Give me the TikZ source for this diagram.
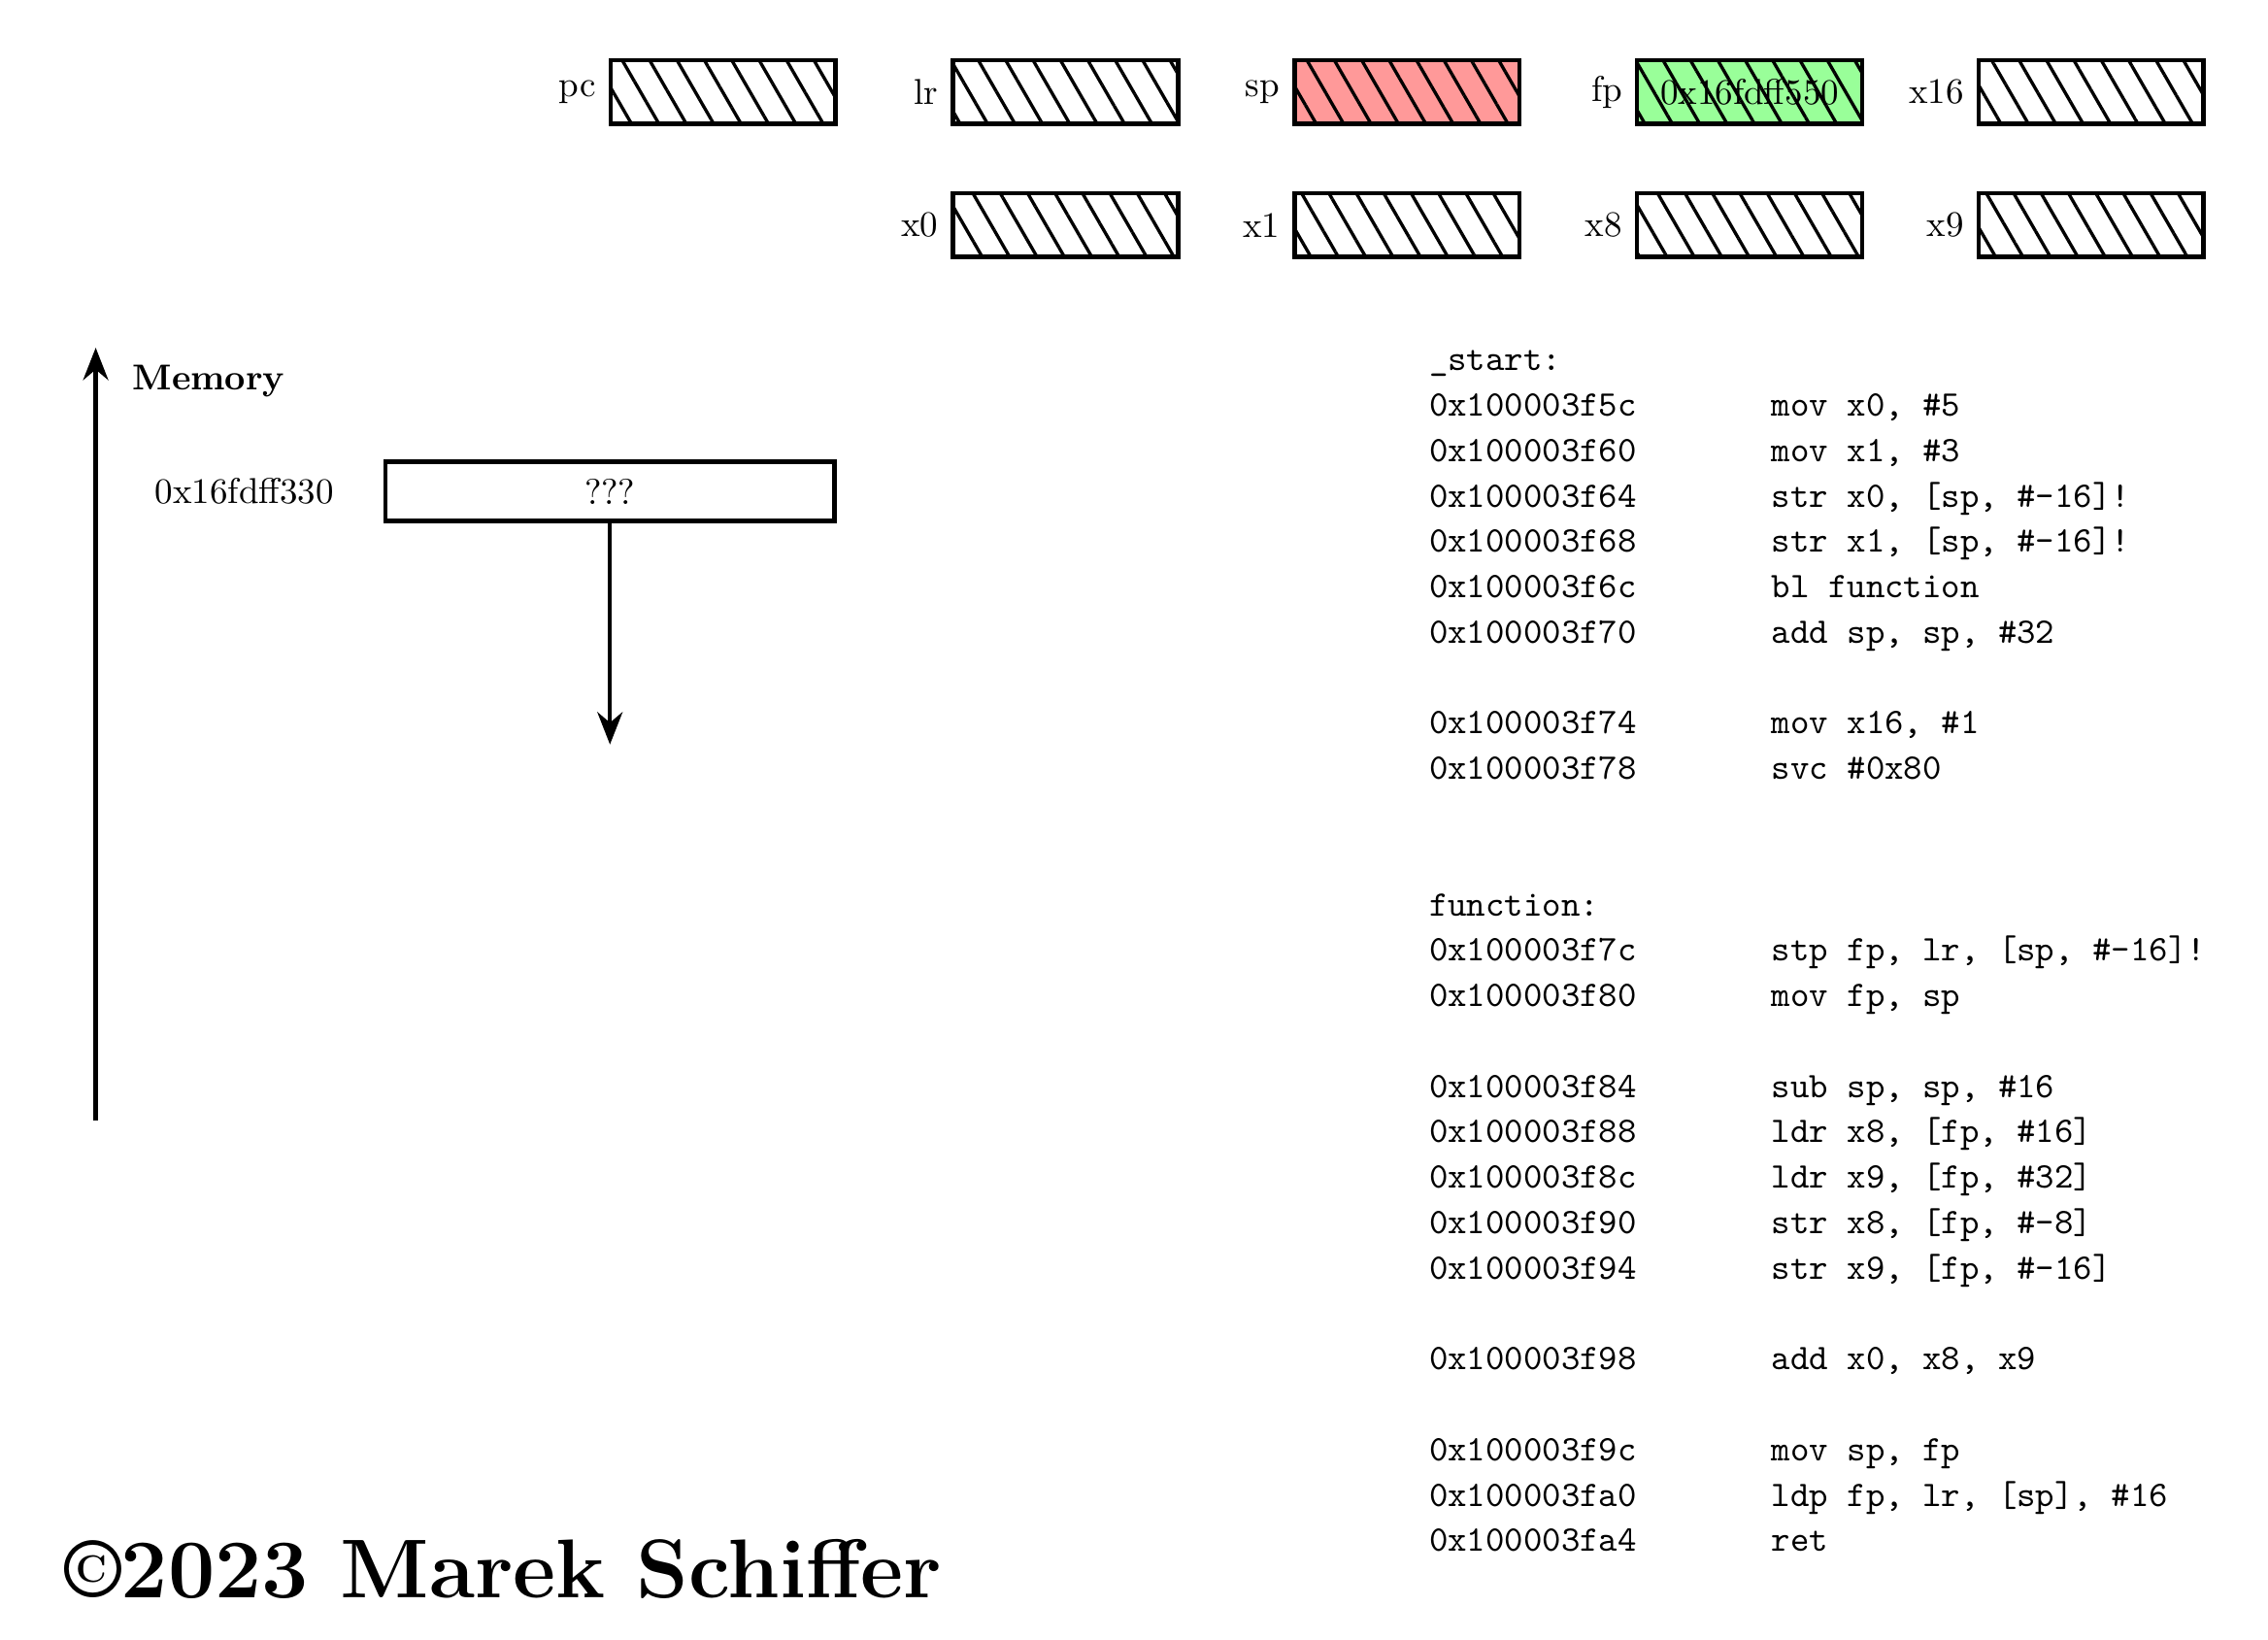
\documentclass[tikz,border=0pt]{standalone}
\usetikzlibrary{arrows.meta,patterns.meta,positioning}
\begin{document}
\begin{tikzpicture}[
    >={Stealth[length=9pt,width=7pt]},
    reg/.style={rectangle,draw,very thick,minimum width=2.2cm,minimum height=0.62cm,
        postaction={pattern={Lines[angle=-60,distance=6.6pt,line width=0.9pt]}}},
    cell/.style={rectangle,draw,very thick,minimum width=4.39cm,minimum height=0.58cm},
    code/.style={anchor=base west,inner sep=0pt,font=\ttfamily}
]
    \useasboundingbox (0,0) rectangle (22.18,-16.03);

    % Registers
    \node[reg,label=left:pc] (pc) at (7.07,-0.90) {};
    \node[reg,label=left:lr] (lr) at (10.42,-0.90) {};
    \node[reg,fill=red!40,label=left:sp] (sp) at (13.76,-0.90) {};
    \node[reg,fill=green!40,label=left:fp] (fp) at (17.11,-0.90) {0x16fdff550};
    \node[reg,label=left:x16] (x16) at (20.45,-0.90) {};
    \node[reg,label=left:x0] (x0) at (10.42,-2.20) {};
    \node[reg,label=left:x1] (x1) at (13.76,-2.20) {};
    \node[reg,label=left:x8] (x8) at (17.11,-2.20) {};
    \node[reg,label=left:x9] (x9) at (20.45,-2.20) {};

    % Memory
    \coordinate (membot) at (0.936,-10.96);
    \coordinate (memtop) at (0.936,-3.40);
    \draw[->,very thick] (membot) -- (memtop);
    \node[anchor=base west,inner sep=0pt] (memlabel) at (1.29,-3.81) {\textbf{Memory}};
    \node[cell] (cell330) at (5.965,-4.805) {???};
    \node[left=0.36cm of cell330] (addr330) {0x16fdff330};
    \coordinate (stackend) at (5.965,-7.28);
    \draw[->,very thick] (cell330) -- (stackend);

    % Code: _start
    \node[code] (start) at (13.97,-3.625) {\_start:};
    \node[code] (a5c) at (13.97,-4.069) {0x100003f5c}; \node[code] (i5c) at (17.32,-4.069) {mov x0, \#5};
    \node[code] (a60) at (13.97,-4.513) {0x100003f60}; \node[code] (i60) at (17.32,-4.513) {mov x1, \#3};
    \node[code] (a64) at (13.97,-4.957) {0x100003f64}; \node[code] (i64) at (17.32,-4.957) {str x0, [sp, \#-16]!};
    \node[code] (a68) at (13.97,-5.401) {0x100003f68}; \node[code] (i68) at (17.32,-5.401) {str x1, [sp, \#-16]!};
    \node[code] (a6c) at (13.97,-5.846) {0x100003f6c}; \node[code] (i6c) at (17.32,-5.846) {bl function};
    \node[code] (a70) at (13.97,-6.290) {0x100003f70}; \node[code] (i70) at (17.32,-6.290) {add sp, sp, \#32};
    \node[code] (a74) at (13.97,-7.178) {0x100003f74}; \node[code] (i74) at (17.32,-7.178) {mov x16, \#1};
    \node[code] (a78) at (13.97,-7.622) {0x100003f78}; \node[code] (i78) at (17.32,-7.622) {svc \#0x80};

    % Code: function
    \node[code] (function) at (13.97,-8.954) {function:};
    \node[code] (a7c) at (13.97,-9.398) {0x100003f7c}; \node[code] (i7c) at (17.32,-9.398) {stp fp, lr, [sp, \#-16]!};
    \node[code] (a80) at (13.97,-9.843) {0x100003f80}; \node[code] (i80) at (17.32,-9.843) {mov fp, sp};
    \node[code] (a84) at (13.97,-10.731) {0x100003f84}; \node[code] (i84) at (17.32,-10.731) {sub sp, sp, \#16};
    \node[code] (a88) at (13.97,-11.175) {0x100003f88}; \node[code] (i88) at (17.32,-11.175) {ldr x8, [fp, \#16]};
    \node[code] (a8c) at (13.97,-11.619) {0x100003f8c}; \node[code] (i8c) at (17.32,-11.619) {ldr x9, [fp, \#32]};
    \node[code] (a90) at (13.97,-12.063) {0x100003f90}; \node[code] (i90) at (17.32,-12.063) {str x8, [fp, \#-8]};
    \node[code] (a94) at (13.97,-12.507) {0x100003f94}; \node[code] (i94) at (17.32,-12.507) {str x9, [fp, \#-16]};
    \node[code] (a98) at (13.97,-13.395) {0x100003f98}; \node[code] (i98) at (17.32,-13.395) {add x0, x8, x9};
    \node[code] (a9c) at (13.97,-14.284) {0x100003f9c}; \node[code] (i9c) at (17.32,-14.284) {mov sp, fp};
    \node[code] (aa0) at (13.97,-14.728) {0x100003fa0}; \node[code] (ia0) at (17.32,-14.728) {ldp fp, lr, [sp], \#16};
    \node[code] (aa4) at (13.97,-15.172) {0x100003fa4}; \node[code] (ia4) at (17.32,-15.172) {ret};

    % Copyright
    \node[anchor=base west,inner sep=0pt,font=\fontsize{23.2}{28}\selectfont\bfseries] (copyright) at (0.62,-15.62) {©2023 Marek Schiffer};
\end{tikzpicture}
\end{document}
